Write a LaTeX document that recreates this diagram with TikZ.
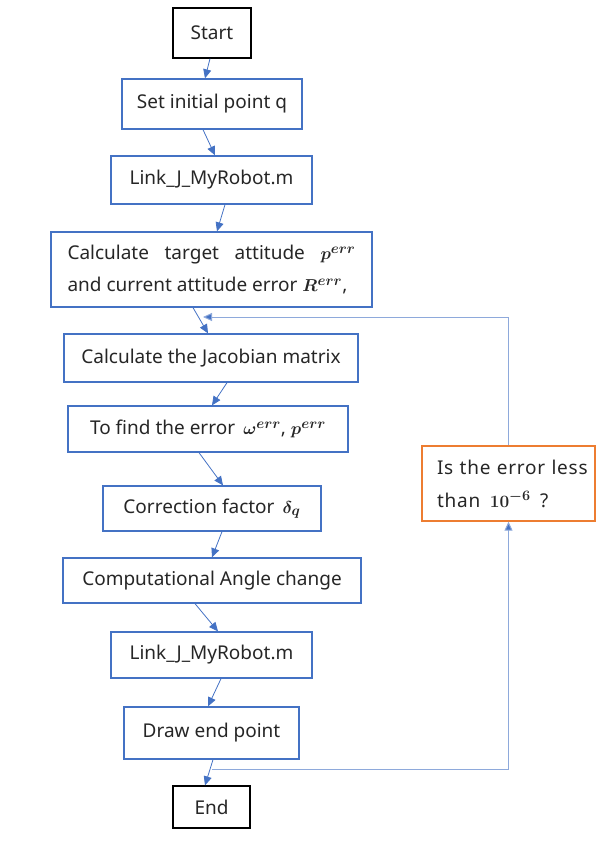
\documentclass[tikz,border=0pt]{standalone}
\usepackage{fontspec}
\setmainfont{Noto Sans}
\usetikzlibrary{arrows.meta}
\newcommand{\bmath}[1]{\mbox{\boldmath$#1$}}
\definecolor{bbox}{HTML}{4472C4}
\definecolor{lbl}{HTML}{8EA9DB}
\definecolor{obox}{HTML}{ED7D31}
\tikzset{
  blk/.style={draw=bbox, line width=1.3pt, rectangle, inner sep=0pt, align=center, font=\fontsize{19}{28}\selectfont, text=black!85},
  term/.style={draw=black, line width=1.3pt, rectangle, inner sep=0pt, align=center, font=\fontsize{19}{28}\selectfont, text=black!85},
  chk/.style={draw=obox, line width=1.3pt, rectangle, inner sep=0pt, text width=143pt, align=left, font=\fontsize{19}{33}\selectfont\addfontfeatures{LetterSpace=4}, text=black!85},
  arr/.style={draw=bbox, line width=0.8pt, -{Triangle[length=9pt,width=8pt]}},
  looparr/.style={draw=lbl, line width=1pt, -{Triangle[length=9pt,width=8pt,fill=bbox]}}
}
\begin{document}
\begin{tikzpicture}[x=1pt,y=-1pt]
\useasboundingbox (0,0) rectangle (606,850);
\node[term, minimum width=78pt, minimum height=50pt] (start) at (212,33) {Start};
\node[blk, minimum width=180pt, minimum height=50pt] (set) at (212,104) {Set initial point q};
\node[blk, minimum width=201pt, minimum height=48pt] (link1) at (211.5,180) {Link\_J\_MyRobot.m};
\node[blk, minimum width=321pt, minimum height=75pt, font=\fontsize{19}{32}\selectfont] (calc) at (211.5,269.5)
  {\parbox{288pt}{Calculate\hfill target\hfill attitude\hfill \bmath{p^{err}}\\and current attitude error \bmath{R^{err}},}};
\node[blk, minimum width=294pt, minimum height=48pt] (jac) at (211,358) {Calculate the Jacobian matrix};
\node[blk, minimum width=280pt, minimum height=46pt] (find) at (208,429) {To find the error \,\bmath{\omega^{err}}, \bmath{p^{err}}};
\node[blk, minimum width=218pt, minimum height=45pt] (corr) at (212,508.5) {Correction factor \,\bmath{\delta_q}};
\node[blk, minimum width=298pt, minimum height=45pt] (comp) at (212,580.5) {Computational Angle change};
\node[blk, minimum width=201pt, minimum height=46pt] (link2) at (211.5,655) {Link\_J\_MyRobot.m};
\node[blk, minimum width=175pt, minimum height=52pt] (drawp) at (211.5,733) {Draw end point};
\node[term, minimum width=77pt, minimum height=42pt] (end) at (211.5,807) {End};
\node[chk, minimum width=173pt, minimum height=75pt] (err) at (508.5,483.5)
  {\mbox{Is the error less}\\\mbox{than \,\bmath{10^{-6}}\ \,?}};

\draw[arr] ([xshift=-2pt]start.south) -- ([xshift=-7pt]set.north);
\draw[arr] ([xshift=-9pt]set.south) -- ([xshift=3.5pt]link1.north);
\draw[arr] ([xshift=13.5pt]link1.south) -- ([xshift=5.5pt]calc.north);
\draw[arr] ([xshift=-18.5pt]calc.south) -- ([xshift=-3pt]jac.north);
\draw[arr] ([xshift=16pt]jac.south) -- ([xshift=4pt]find.north);
\draw[arr] ([xshift=-9pt]find.south) -- ([xshift=11pt]corr.north);
\draw[arr] ([xshift=10pt]corr.south) -- ([xshift=0pt]comp.north);
\draw[arr] ([xshift=-17pt]comp.south) -- ([xshift=6.5pt]link2.north);
\draw[arr] ([xshift=9.5pt]link2.south) -- ([xshift=-3.5pt]drawp.north);
\draw[arr] ([xshift=1.5pt]drawp.south) -- ([xshift=-6.5pt]end.north);

\coordinate (la) at (212,769);
\coordinate (lb) at (203,317);
\draw[looparr] (la) -| (err.south);
\draw[looparr] (err.north) |- (lb);
\end{tikzpicture}
\end{document}
